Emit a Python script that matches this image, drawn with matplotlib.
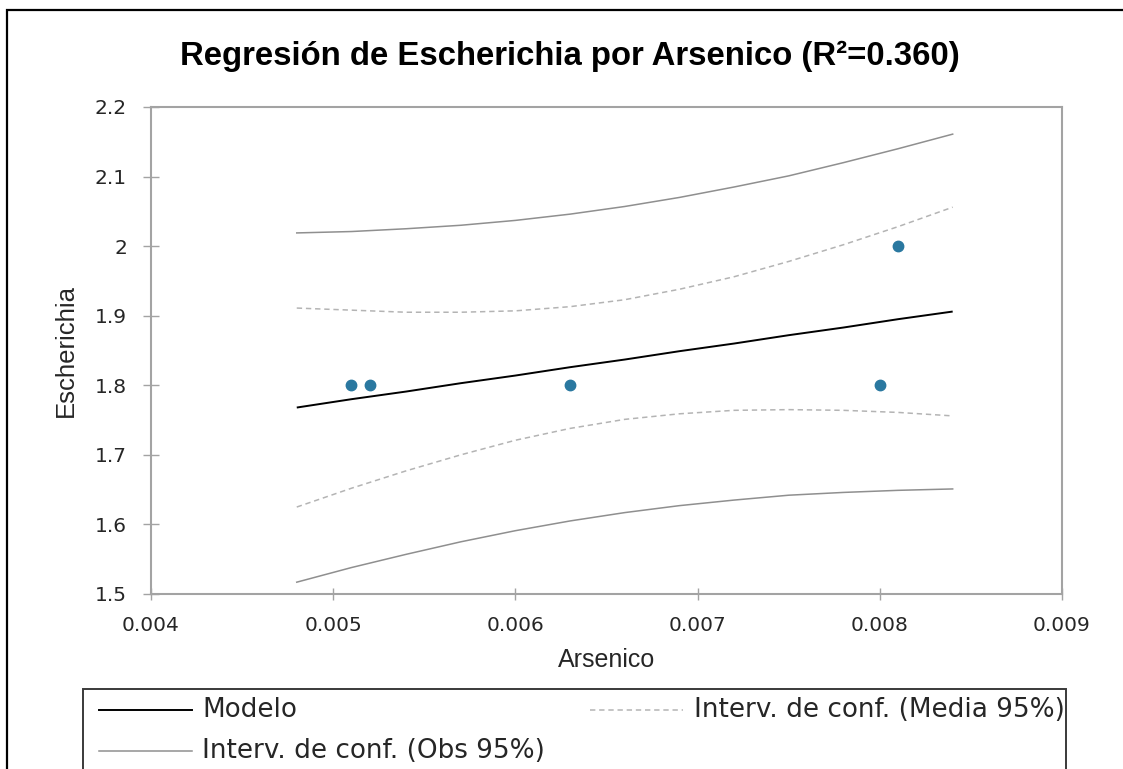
import matplotlib
matplotlib.use("Agg")
import matplotlib.pyplot as plt
from matplotlib.lines import Line2D
from matplotlib.patches import Rectangle

# ---------------- data ----------------
arsenico = [0.0051, 0.0052, 0.0063, 0.0080, 0.0081]
escherichia = [1.8, 1.8, 1.8, 1.8, 2.0]

curve_x = [0.0048, 0.0051, 0.0054, 0.0057, 0.0060, 0.0063, 0.0066,
           0.0069, 0.0072, 0.0075, 0.0078, 0.0081, 0.0084]
modelo = [1.768, 1.780, 1.791, 1.803, 1.814, 1.826, 1.837,
          1.849, 1.860, 1.872, 1.883, 1.895, 1.906]
media_sup = [1.911, 1.908, 1.905, 1.905, 1.907, 1.913, 1.923,
             1.938, 1.956, 1.978, 2.002, 2.028, 2.056]
media_inf = [1.625, 1.652, 1.677, 1.700, 1.721, 1.738, 1.751,
             1.759, 1.764, 1.765, 1.764, 1.761, 1.756]
obs_sup = [2.019, 2.021, 2.025, 2.030, 2.037, 2.046, 2.057,
           2.070, 2.085, 2.101, 2.120, 2.140, 2.161]
obs_inf = [1.517, 1.538, 1.557, 1.575, 1.591, 1.605, 1.617,
           1.627, 1.635, 1.642, 1.646, 1.649, 1.651]

x_ticks = [0.004, 0.005, 0.006, 0.007, 0.008, 0.009]
x_ticklabels = ["0.004", "0.005", "0.006", "0.007", "0.008", "0.009"]
y_ticks = [1.5, 1.6, 1.7, 1.8, 1.9, 2.0, 2.1, 2.2]
y_ticklabels = ["1.5", "1.6", "1.7", "1.8", "1.9", "2", "2.1", "2.2"]

title = "Regresión de Escherichia por Arsenico (R²=0.360)"
xlabel = "Arsenico"
ylabel = "Escherichia"
legend_labels = ["Modelo", "Interv. de conf. (Media 95%)", "Interv. de conf. (Obs 95%)"]

# ---------------- layout ----------------
W, H = 1123, 769
fig = plt.figure(figsize=(W / 100, H / 100), dpi=100)
fig.patch.set_facecolor("white")

def fx(px):
    return px / W

def fy(py):
    return 1 - py / H

title_font = "Liberation Sans"
label_font = "Liberation Sans"
tick_font = "DejaVu Sans"

ax_l, ax_r, ax_t, ax_b = 151, 1062, 107, 594
ax = fig.add_axes([fx(ax_l), fy(ax_b), fx(ax_r - ax_l), (ax_b - ax_t) / H])

spine_col = "#a3a3a3"
model_col = "#000000"
obs_col = "#8f8f8f"
mean_col = "#b4b4b4"
pt_col = "#2a78a0"

ax.plot(curve_x, obs_sup, color=obs_col, lw=1.1, solid_joinstyle="round")
ax.plot(curve_x, obs_inf, color=obs_col, lw=1.1, solid_joinstyle="round")
ax.plot(curve_x, media_sup, color=mean_col, lw=1.1, ls=(0, (3.5, 2.5)))
ax.plot(curve_x, media_inf, color=mean_col, lw=1.1, ls=(0, (3.5, 2.5)))
ax.plot(curve_x, modelo, color=model_col, lw=1.4, solid_capstyle="butt")
ax.plot(arsenico, escherichia, ls="none", marker="o", ms=7.5,
        color=pt_col, mec=pt_col)

ax.set_xlim(0.004, 0.009)
ax.set_ylim(1.5, 2.2)
ax.set_xticks(x_ticks)
ax.set_xticklabels(x_ticklabels)
ax.set_yticks(y_ticks)
ax.set_yticklabels(y_ticklabels)

for s in ax.spines.values():
    s.set_color(spine_col)
    s.set_linewidth(1.5)

ax.tick_params(axis="y", direction="inout", length=11.5, width=1.0,
               color=spine_col, pad=11.5, labelsize=14.5, labelcolor="#262626")
ax.tick_params(axis="x", direction="inout", length=9, width=1.0,
               color=spine_col, pad=11, labelsize=14.5, labelcolor="#262626")
for lab in ax.get_xticklabels() + ax.get_yticklabels():
    lab.set_family(tick_font)

ax.set_xlabel(xlabel, fontsize=18, family=label_font, color="#262626", labelpad=10)
ax.set_ylabel(ylabel, fontsize=18.5, family=label_font, color="#262626", labelpad=12)

fig.text(fx(570), fy(56), title, ha="center", va="center",
         fontsize=23.7, fontweight="bold", family=title_font, color="black")

# outer border (clipped at right and bottom)
fig.patches.append(Rectangle((fx(7), -0.2), 1.5, fy(10) + 0.2,
                             transform=fig.transFigure, fill=False,
                             edgecolor="black", lw=1.6))

# legend box (clipped at bottom)
leg_l, leg_r, leg_t = 83, 1066, 689
fig.patches.append(Rectangle((fx(leg_l), -0.2), fx(leg_r - leg_l), fy(leg_t) + 0.2,
                             transform=fig.transFigure, fill=False,
                             edgecolor="#3a3a3a", lw=1.4))

leg_styles = [dict(color=model_col, lw=1.4),
              dict(color=mean_col, lw=1.1, ls=(0, (3.5, 2.5))),
              dict(color=obs_col, lw=1.1)]
leg_pos = [((99, 192), 202, 710), ((590, 683), 694, 710), ((99, 192), 202, 751)]
for lab, sty, ((h0, h1), tx, ty) in zip(legend_labels, leg_styles, leg_pos):
    fig.lines.append(Line2D([fx(h0), fx(h1)], [fy(ty), fy(ty)],
                            transform=fig.transFigure, **sty))
    fig.text(fx(tx), fy(ty), lab, ha="left", va="center", fontsize=18.9,
             family=tick_font, color="#262626")

fig.savefig("out.png", dpi=100, facecolor="white")
